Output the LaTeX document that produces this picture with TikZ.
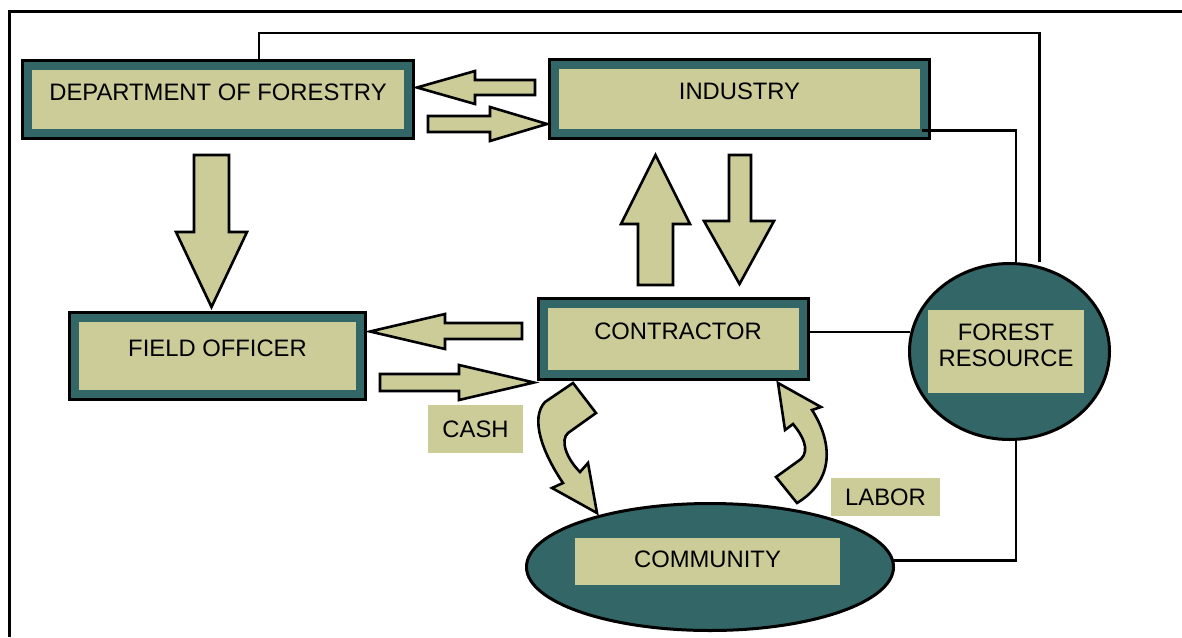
\documentclass[tikz,border=0pt]{standalone}
\usepackage{fontspec}
\setmainfont{Liberation Sans}
\usepackage{tikz}
\usetikzlibrary{shapes.geometric}
\definecolor{pine}{HTML}{336666}
\definecolor{khaki}{HTML}{CCCC99}
\tikzset{
  box/.style={draw=black, line width=1.5pt, fill=pine, inner sep=0pt, font=\fontsize{11.9}{13}\selectfont,
    text height=8.5pt, text depth=8pt,
    path picture={\fill[khaki] ([xshift=4.75pt,yshift=-4.75pt]path picture bounding box.north west)
      rectangle ([xshift=-4.75pt,yshift=4.75pt]path picture bounding box.south east);}},
  blob/.style={ellipse, draw=black, line width=1.5pt, fill=pine, inner sep=0pt},
  tag/.style={fill=khaki, inner sep=0pt, font=\fontsize{11.9}{13}\selectfont, text height=8.5pt, align=center},
  link/.style={draw=black, line width=1.1pt},
  frame/.style={draw=black, line width=1.5pt},
  barrow/.style={draw=black, fill=khaki, line width=1.3pt, line join=miter},
}
\begin{document}
\begin{tikzpicture}[x=0.5pt,y=-0.5pt]
  \useasboundingbox (0,0) rectangle (1182,637);
  \draw[frame] (1182,11) -| (9,637);
  % boxes
  \node[box, minimum width=195.5pt, minimum height=39pt] (forestry) at (218,99.5) {DEPARTMENT OF FORESTRY};
  \node[box, minimum width=190pt, minimum height=39.5pt] (industry) at (739.5,99) {INDUSTRY};
  \node[box, minimum width=148pt, minimum height=43.5pt] (officer) at (217.5,356) {FIELD OFFICER};
  \node[box, minimum width=135pt, minimum height=40.5pt] (contractor) at (673.5,339) {\hspace*{4.5pt}CONTRACTOR};
  \node[blob, minimum width=100pt, minimum height=88pt] (forest) at (1009.5,351.5) {};
  \node[tag, minimum width=78pt, minimum height=41.5pt, text height=21.5pt, text depth=6.5pt] (forestin) at (1006,351.5) {FOREST\\RESOURCE};
  \node[blob, minimum width=183.5pt, minimum height=63.5pt] (community) at (710,567) {};
  \node[tag, minimum width=132.5pt, minimum height=23.5pt, text depth=2.5pt] (communityin) at (707.5,561.5) {COMMUNITY};
  \node[tag, minimum width=47.5pt, minimum height=24pt] (cash) at (475.5,429) {CASH};
  \node[tag, minimum width=54.5pt, minimum height=19pt] (labor) at (885.5,497) {LABOR};
  % lines to the forest
  \draw[link] ([xshift=20.5pt]forestry.north) -- ++(0,-26) -| ([xshift=15pt]forest.north);
  \draw[link] ([xshift=-4.75pt,yshift=4.75pt]industry.south east) -| ([xshift=3.25pt]forest.north);
  \draw[link] (forest.169) -- (forest.169 -| contractor.east);
  \draw[link] ([xshift=3.25pt]forest.south) |- (community.2);
  % block arrows
  \draw[barrow] (535,80) -- (475,80) -- (475,71) -- (417,87.5) -- (475,104) -- (475,95) -- (535,95) -- cycle;
  \draw[barrow] (428,116) -- (490,116) -- (490,107) -- (547,124) -- (490,141) -- (490,132) -- (428,132) -- cycle;
  \draw[barrow] (194,155) -- (229,155) -- (229,232) -- (247,232) -- (211.5,307) -- (176,232) -- (194,232) -- cycle;
  \draw[barrow] (638,285) -- (638,224) -- (621,224) -- (655.5,155) -- (690,224) -- (673,224) -- (673,285) -- cycle;
  \draw[barrow] (729,155) -- (751,155) -- (751,221) -- (774,221) -- (739.5,284) -- (704,221) -- (729,221) -- cycle;
  \draw[barrow] (522,323) -- (445,323) -- (445,314) -- (370,331.5) -- (445,349) -- (445,339) -- (522,339) -- cycle;
  \draw[barrow] (380,374) -- (459,374) -- (459,365) -- (534,382.5) -- (459,400) -- (459,391) -- (380,391) -- cycle;
  % cash and labor
  \draw[barrow] (573,383) -- (596,413) -- (568,433) .. controls (560,440) and (566,458) .. (580,472)
    -- (588,463) -- (597,513) -- (552,488) -- (563,483) .. controls (542,452) and (530,418) .. (545,402) -- cycle;
  \draw[barrow] (778,383) -- (821,407) -- (812,410) .. controls (830,438) and (838,478) .. (797,503)
    -- (776,477) -- (801,459) .. controls (810,450) and (803,436) .. (793,424) -- (785,430) -- cycle;
\end{tikzpicture}
\end{document}
